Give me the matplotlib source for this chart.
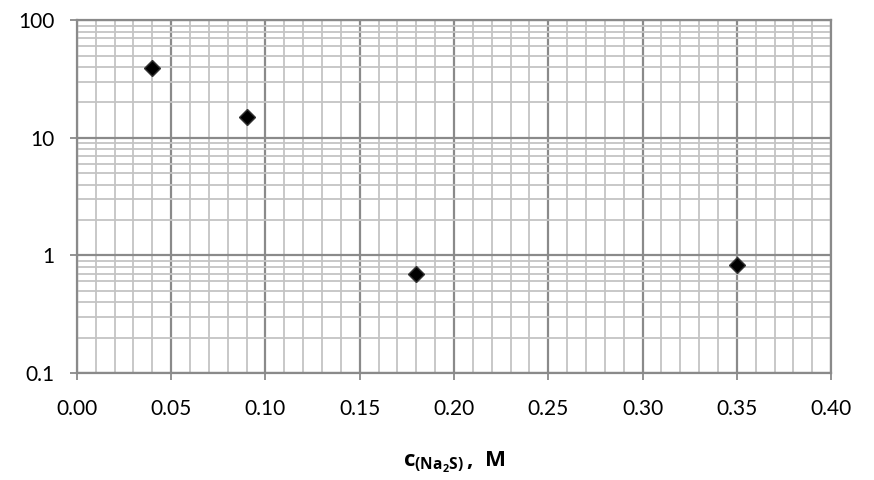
import matplotlib.pyplot as plt
from matplotlib.ticker import FixedLocator, LogLocator, NullFormatter
import numpy as np

conc = [0.04, 0.09, 0.18, 0.35]
values = [39, 15, 0.70, 0.82]
xticks = [0.00, 0.05, 0.10, 0.15, 0.20, 0.25, 0.30, 0.35, 0.40]
yticks = [0.1, 1, 10, 100]
ytick_labels = ['0.1', '1', '10', '100']

plt.rcParams['font.family'] = ['Lato', 'DejaVu Sans']
plt.rcParams['mathtext.fontset'] = 'custom'
plt.rcParams['mathtext.rm'] = 'Open Sans'
plt.rcParams['mathtext.bf'] = 'Open Sans:bold'

fig = plt.figure(figsize=(8.74, 4.8), dpi=100)
ax = fig.add_axes([0.088, 0.223, 0.863, 0.735])

ax.set_yscale('log')
ax.set_xlim(0, 0.4)
ax.set_ylim(0.1, 100)

ax.set_xticks(xticks)
ax.set_xticklabels(['%.2f' % t for t in xticks], fontsize=15)
ax.set_yticks(yticks)
ax.set_yticklabels(ytick_labels, fontsize=15)
ax.xaxis.set_minor_locator(FixedLocator(np.arange(0, 0.4001, 0.01)))
ax.yaxis.set_minor_locator(LogLocator(base=10, subs=np.arange(2, 10)))
ax.yaxis.set_minor_formatter(NullFormatter())

ax.grid(which='major', color='#8a8a8a', linewidth=1.6)
ax.grid(which='minor', color='#c4c4c4', linewidth=1.3)
ax.set_axisbelow(True)

for s in ax.spines.values():
    s.set_color('#8a8a8a')
    s.set_linewidth(1.6)

ax.tick_params(axis='x', which='major', length=5, color='#8a8a8a', width=1.3, pad=14)
ax.tick_params(axis='y', which='major', length=5, color='#8a8a8a', width=1.3, pad=11)
ax.tick_params(which='minor', length=0)

ax.plot(conc, values, linestyle='none', marker='D', markersize=8,
        markerfacecolor='black', markeredgecolor='#333333')

ax.set_xlabel(r'$\mathbf{c_{(Na_2S)}\!\ ,\ M}$', fontsize=16)
ax.xaxis.set_label_coords(0.5, -0.25)
ax.xaxis.label.set_verticalalignment('center')

plt.savefig('out.png', dpi=100)
